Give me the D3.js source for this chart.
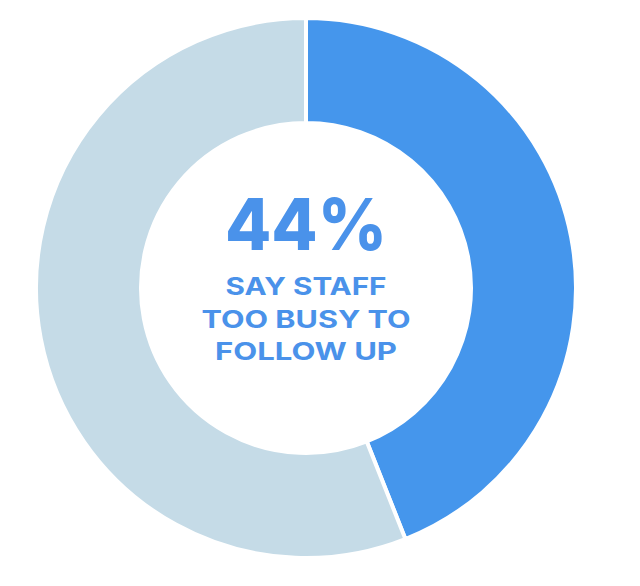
<!DOCTYPE html>
<html><head><meta charset="utf-8">
<script src="https://cdn.jsdelivr.net/npm/d3@7"></script>
<style>html,body{margin:0;padding:0;background:#fff;}svg{display:block;}</style>
</head><body>
<svg id="chart" width="640" height="586"></svg>
<script>
const categories = ["Staff too busy to follow up", "Other"];
const values = [44, 56];
const colors = ["#4596EC", "#C5DBE7"];
const headline = "44%";
const subLines = ["SAY STAFF", "TOO BUSY TO", "FOLLOW UP"];

const svg = d3.select("#chart");
const cx = 306, cy = 288, outerR = 270, innerR = 165;
const g = svg.append("g").attr("transform", `translate(${cx},${cy})`);

const pie = d3.pie().sort(null).value(d => d)(values);
const arc = d3.arc().innerRadius(innerR).outerRadius(outerR);

g.selectAll("path").data(pie).join("path")
  .attr("d", arc)
  .attr("fill", (d, i) => colors[i])
  .attr("stroke", "#fff")
  .attr("stroke-width", 4);

const txtColor = "#4A92EA";
g.append("text").text(headline)
  .attr("x", 0).attr("y", -38)
  .attr("text-anchor", "middle")
  .attr("font-family", "Inter, sans-serif")
  .attr("font-weight", 800)
  .attr("font-size", 72)
  .attr("textLength", 162).attr("lengthAdjust", "spacingAndGlyphs")
  .attr("fill", txtColor);

const widths = [161, 209, 182];
subLines.forEach((s, i) => {
  g.append("text").text(s)
    .attr("x", 0).attr("y", 7 + i * 32.5)
    .attr("text-anchor", "middle")
    .attr("font-family", "Inter, sans-serif")
    .attr("font-weight", 700)
    .attr("font-size", 24)
    .attr("textLength", widths[i]).attr("lengthAdjust", "spacingAndGlyphs")
    .attr("fill", txtColor);
});
</script>
</body></html>
